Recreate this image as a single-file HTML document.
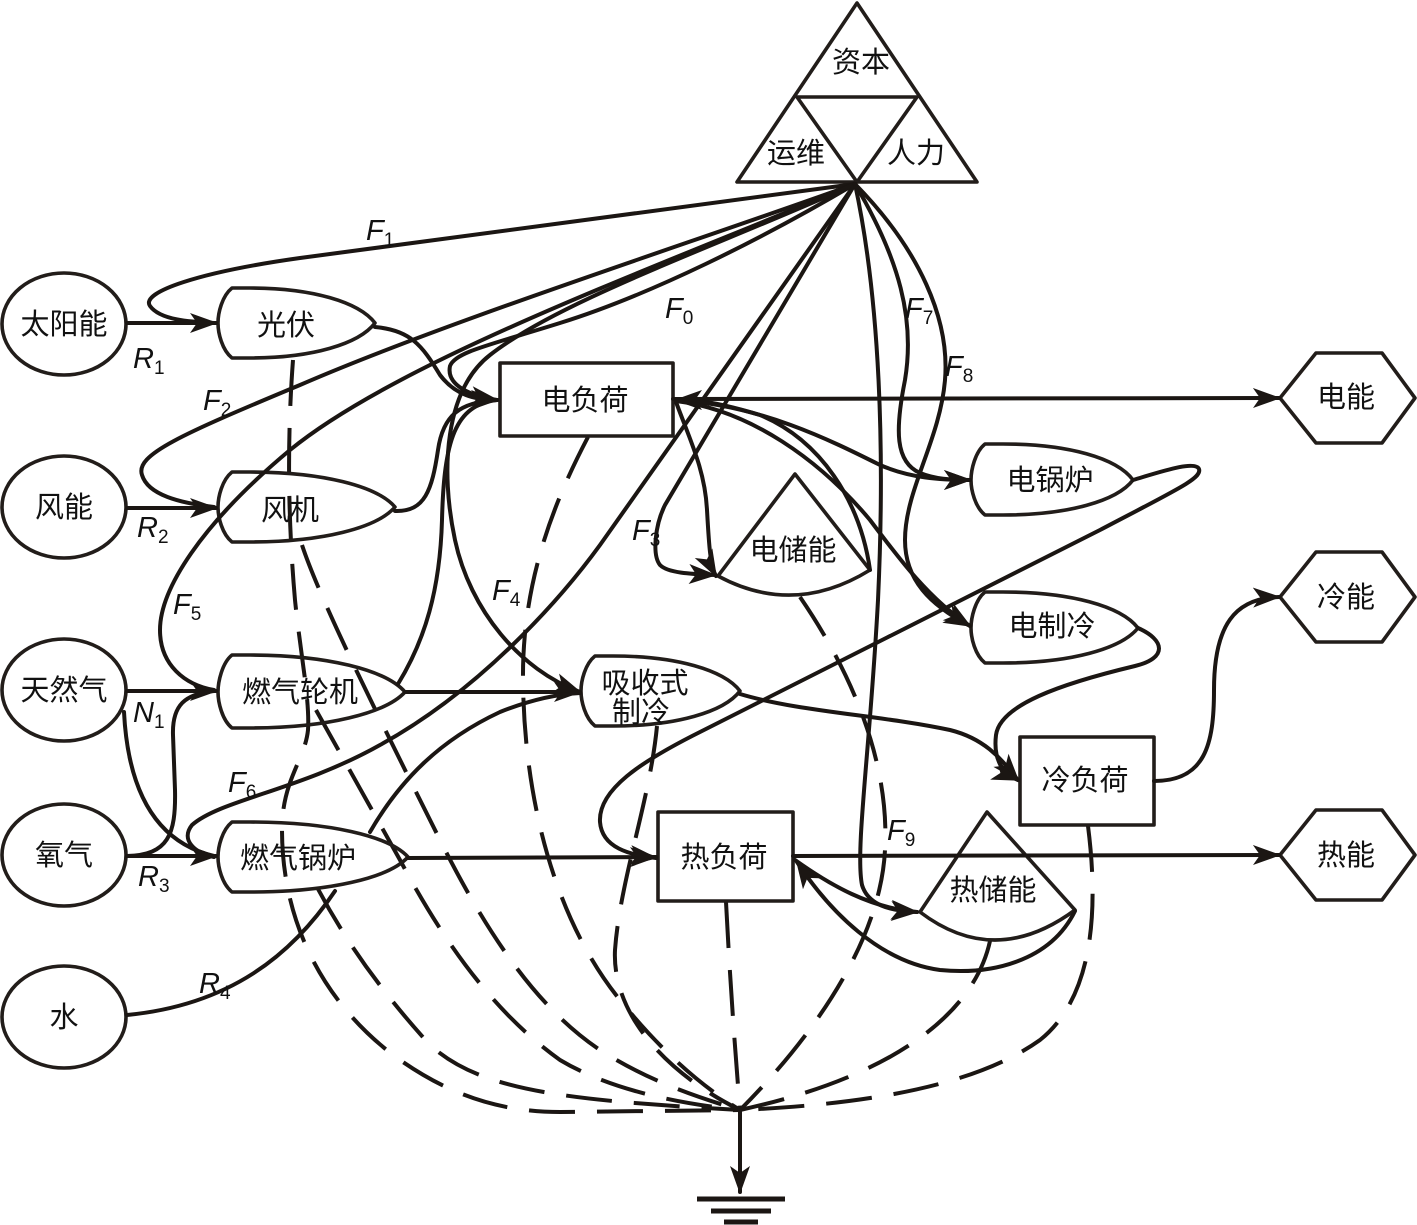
<!DOCTYPE html>
<html>
<head>
<meta charset="utf-8">
<style>
html,body{margin:0;padding:0;background:#fff;width:1417px;height:1225px;overflow:hidden}
svg{display:block}
.t{font-family:"Liberation Sans","Noto Sans CJK SC",sans-serif;font-size:29px;fill:#111;text-anchor:middle}
.f{font-family:"Liberation Sans",sans-serif;font-size:29px;font-style:italic;fill:#111}
.s{font-size:19px;font-style:normal}
</style>
</head>
<body>
<svg width="1417" height="1225" viewBox="0 0 1417 1225" xmlns="http://www.w3.org/2000/svg">
<defs>
<marker id="a" viewBox="0 0 28 22" markerWidth="28" markerHeight="22" refX="26" refY="11" orient="auto" markerUnits="userSpaceOnUse">
<path d="M0,1 L28,11 L0,21 L7,11 Z" fill="#1b1613"/>
</marker>
</defs>
<rect width="1417" height="1225" fill="#fff"/>

<!-- dashed lines to ground -->
<g fill="none" stroke="#1b1613" stroke-width="4" stroke-dasharray="46 22">
<path d="M293,360 C287,440 288,520 295,600 C300,650 310,700 308,730 C305,760 282,780 282,830 C282,930 330,1010 400,1060 C450,1095 500,1112 560,1112 L740,1110"/>
<path d="M318,889 C345,940 380,990 430,1045 C480,1090 560,1100 740,1110"/>
<path d="M316,710 L400,860 C440,935 490,1010 560,1060 C610,1090 680,1104 740,1110"/>
<path d="M302,545 C320,600 380,720 440,840 C490,940 540,1010 600,1050 C650,1082 700,1098 740,1110"/>
<path d="M588,437 C555,500 522,580 523,680 C524,800 555,920 620,1000 C660,1050 700,1085 740,1110"/>
<path d="M657,726 C650,800 620,880 615,950 C612,1010 660,1070 740,1110"/>
<path d="M726,902 C730,980 735,1050 740,1110"/>
<path d="M800,597 C850,670 890,760 885,850 C880,950 800,1050 740,1110"/>
<path d="M990,941 C975,1010 900,1075 740,1110"/>
<path d="M1088,826 C1100,920 1090,1000 1040,1040 C970,1090 850,1105 740,1110"/>
</g>

<!-- nodes -->
<g fill="none" stroke="#221d1a" stroke-width="3.6" stroke-linejoin="round">
<path d="M857,3 L737,182 L977,182 Z"/>
<path d="M797,97 L917,97 L857,182 Z"/>
<ellipse cx="64" cy="324" rx="62" ry="51"/>
<ellipse cx="64" cy="507" rx="62" ry="51"/>
<ellipse cx="64" cy="690" rx="62" ry="51"/>
<ellipse cx="64" cy="855" rx="62" ry="51"/>
<ellipse cx="64" cy="1017" rx="62" ry="51"/>
<path d="M232,288 L250,288 C312,288 359,302 375,323 C359,344 312,358 250,358 L232,358 C222,350 218,333 218,323 C218,313 222,296 232,288 Z"/>
<path d="M232,472 L250,472 C322,472 377,486 395,507 C377,528 322,542 250,542 L232,542 C222,534 218,517 218,507 C218,497 222,480 232,472 Z"/>
<path d="M232,655 L250,655 C327,655 386,670 405,692 C386,713 327,728 250,728 L232,728 C222,720 218,702 218,692 C218,682 222,663 232,655 Z"/>
<path d="M232,822 L250,822 C329,822 389,836 408,857 C389,878 329,892 250,892 L232,892 C222,884 218,867 218,857 C218,847 222,830 232,822 Z"/>
<path d="M595,656 L613,656 C676,656 724,670 740,691 C724,712 676,726 613,726 L595,726 C585,718 581,701 581,691 C581,681 585,664 595,656 Z"/>
<path d="M985,444 L1003,444 C1068,444 1117,458 1133,480 C1117,501 1068,515 1003,515 L985,515 C975,507 971,490 971,480 C971,470 975,452 985,444 Z"/>
<path d="M985,592 L1003,592 C1070,592 1121,606 1138,628 C1121,649 1070,663 1003,663 L985,663 C975,655 971,638 971,628 C971,618 975,600 985,592 Z"/>
<rect x="500" y="363" width="173" height="73"/>
<rect x="658" y="812" width="135" height="89"/>
<rect x="1020" y="737" width="134" height="88"/>
<path d="M718,576 L795,474 L870,570 Q794,617 718,576 Z"/>
<path d="M920,912 L987,812 L1075,910 Q995,969 920,912 Z"/>
<path d="M1280,398 L1316,353 L1382,353 L1415,398 L1382,443 L1316,443 Z"/>
<path d="M1280,597 L1316,552 L1382,552 L1415,597 L1382,642 L1316,642 Z"/>
<path d="M1280,855 L1316,810 L1382,810 L1415,855 L1382,900 L1316,900 Z"/>
</g>

<!-- solid connectors -->
<g fill="none" stroke="#1b1613" stroke-width="4" stroke-linecap="round">
<path d="M127,323 L216,323" marker-end="url(#a)"/>
<path d="M127,508 L216,508" marker-end="url(#a)"/>
<path d="M127,691 L216,691" marker-end="url(#a)"/>
<path d="M127,856 L216,856" marker-end="url(#a)"/>
<path d="M124,712 C128,790 155,842 214,856"/>
<path d="M127,856 C168,855 176,835 175,790 L173,735 C172,705 185,694 214,691"/>
<path d="M127,1015 C230,1005 292,955 335,891"/>
<path d="M855,184 L300,258 C200,272 140,292 150,306 C160,320 190,322 214,323"/>
<path d="M855,184 C700,240 450,320 300,385 C180,435 135,455 142,475 C148,495 180,503 214,507"/>
<path d="M855,184 C650,270 400,360 290,450 C200,525 160,590 160,630 C160,665 185,685 214,690"/>
<path d="M855,184 L600,545 C560,600 480,690 380,745 C300,790 220,800 192,825 C180,840 195,853 214,857"/>
<path d="M855,184 C760,240 650,295 560,323 C490,345 455,352 450,366 C446,385 470,396 497,400" marker-end="url(#a)"/>
<path d="M855,184 C720,245 560,300 490,355 C445,390 440,470 455,540 C470,610 520,670 580,692" marker-end="url(#a)"/>
<path d="M855,184 L665,505 C655,525 652,555 660,565 C668,573 690,574 715,575" marker-end="url(#a)"/>
<path d="M855,184 C900,260 915,320 905,380 C895,430 895,462 920,473 C935,479 950,480 970,480" marker-end="url(#a)"/>
<path d="M855,184 C920,250 950,320 945,380 C940,440 905,490 905,540 C905,580 930,605 970,626" marker-end="url(#a)"/>
<path d="M855,184 C880,300 885,450 878,600 C870,750 855,850 862,885 C868,905 890,911 917,912" marker-end="url(#a)"/>
<path d="M375,327 C410,330 422,345 440,375 C455,395 475,400 497,400" marker-end="url(#a)"/>
<path d="M395,511 C425,512 432,490 438,450 C443,415 460,402 497,400"/>
<path d="M398,684 C425,640 440,590 442,520 C444,440 455,405 497,400"/>
<path d="M405,692 L580,692" marker-end="url(#a)"/>
<path d="M370,832 C400,780 440,740 500,712 C535,698 560,694 580,693"/>
<path d="M408,858 L656,857" marker-end="url(#a)"/>
<path d="M673,399 L1279,398" marker-end="url(#a)"/>
<path d="M870,570 C860,500 820,440 760,415 C720,403 700,400 676,400" marker-end="url(#a)"/>
<path d="M676,402 C690,440 705,470 707,510 C709,545 710,565 716,576" marker-end="url(#a)"/>
<path d="M676,400 C760,405 830,440 880,465 C910,478 940,480 970,480" marker-end="url(#a)"/>
<path d="M676,401 C750,410 820,460 870,520 C900,560 930,600 970,626" marker-end="url(#a)"/>
<path d="M740,694 C800,712 880,715 950,730 C990,740 1005,765 1018,780" marker-end="url(#a)"/>
<path d="M1138,628 C1165,640 1168,658 1135,666 C1060,684 1000,705 996,735 C993,760 1003,774 1018,780" marker-end="url(#a)"/>
<path d="M1133,480 C1160,472 1195,460 1199,469 C1202,478 1180,488 1100,530 L700,732 C640,762 598,790 600,822 C602,848 630,855 656,858" marker-end="url(#a)"/>
<path d="M1154,781 C1205,781 1214,745 1214,690 C1214,625 1235,598 1279,597" marker-end="url(#a)"/>
<path d="M793,856 L1279,855" marker-end="url(#a)"/>
<path d="M795,860 C830,885 870,908 917,912" marker-end="url(#a)"/>
<path d="M1075,911 C1050,962 990,975 940,970 C880,962 830,912 797,862" marker-end="url(#a)"/>
<path d="M740,1110 L740,1192" marker-end="url(#a)"/>
</g>
<g stroke="#1b1613" stroke-width="5">
<line x1="697" y1="1199" x2="785" y2="1199"/>
<line x1="711" y1="1211" x2="771" y2="1211"/>
<line x1="724" y1="1222" x2="758" y2="1222"/>
</g>

<text class="t" x="861" y="72">资本</text>
<text class="t" x="796" y="163">运维</text>
<text class="t" x="916" y="163">人力</text>
<text class="t" x="64" y="334">太阳能</text>
<text class="t" x="64" y="517">风能</text>
<text class="t" x="64" y="700">天然气</text>
<text class="t" x="64" y="865">氧气</text>
<text class="t" x="64" y="1027">水</text>
<text class="t" x="286" y="335">光伏</text>
<text class="t" x="290" y="520">风机</text>
<text class="t" x="300" y="702">燃气轮机</text>
<text class="t" x="298" y="868">燃气锅炉</text>
<text class="t" x="585" y="410">电负荷</text>
<text class="t" x="645" y="693">吸收式</text>
<text class="t" x="641" y="722">制冷</text>
<text class="t" x="1050" y="490">电锅炉</text>
<text class="t" x="793" y="560">电储能</text>
<text class="t" x="1052" y="636">电制冷</text>
<text class="t" x="1085" y="790">冷负荷</text>
<text class="t" x="724" y="867">热负荷</text>
<text class="t" x="993" y="900">热储能</text>
<text class="t" x="1346" y="407">电能</text>
<text class="t" x="1346" y="607">冷能</text>
<text class="t" x="1346" y="865">热能</text>

<text class="f" x="366" y="240">F<tspan class="s" dy="6">1</tspan></text>
<text class="f" x="665" y="318">F<tspan class="s" dy="6">0</tspan></text>
<text class="f" x="203" y="410">F<tspan class="s" dy="6">2</tspan></text>
<text class="f" x="632" y="540">F<tspan class="s" dy="6">3</tspan></text>
<text class="f" x="492" y="600">F<tspan class="s" dy="6">4</tspan></text>
<text class="f" x="173" y="614">F<tspan class="s" dy="6">5</tspan></text>
<text class="f" x="228" y="792">F<tspan class="s" dy="6">6</tspan></text>
<text class="f" x="905" y="318">F<tspan class="s" dy="6">7</tspan></text>
<text class="f" x="945" y="376">F<tspan class="s" dy="6">8</tspan></text>
<text class="f" x="887" y="840">F<tspan class="s" dy="6">9</tspan></text>
<text class="f" x="133" y="368">R<tspan class="s" dy="6">1</tspan></text>
<text class="f" x="137" y="537">R<tspan class="s" dy="6">2</tspan></text>
<text class="f" x="133" y="722">N<tspan class="s" dy="6">1</tspan></text>
<text class="f" x="138" y="886">R<tspan class="s" dy="6">3</tspan></text>
<text class="f" x="199" y="993">R<tspan class="s" dy="6">4</tspan></text>
</svg>
</body>
</html>
